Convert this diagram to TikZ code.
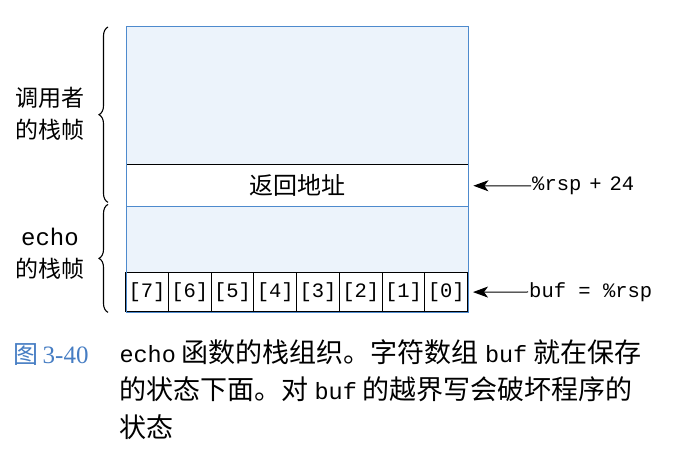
\documentclass[tikz,border=0pt]{standalone}
\usepackage{fontspec}
\setmainfont{Liberation Serif}
\setmonofont{Liberation Mono}
\newfontfamily\cjk{Noto Sans CJK SC}
\usetikzlibrary{arrows.meta, positioning, decorations.pathreplacing}
\usepackage{xcolor}
\definecolor{framecol}{RGB}{78,138,205}
\definecolor{stackfill}{RGB}{236,243,251}
\definecolor{capblue}{RGB}{70,125,195}
\def\cellw{42.75}
\newcommand{\captt}[1]{{\fontsize{23.5}{23.5}\selectfont\ttfamily #1}}

\begin{document}
\begin{tikzpicture}[x=1pt,y=-1pt,->,>={Stealth[length=15pt,width=11pt,inset=4pt]}]
    \tikzstyle{slot}=[draw=black, fill=white, line width=0.8pt, minimum width=\cellw pt, minimum height=39pt, inner sep=0pt, font=\fontsize{20.5}{20.5}\selectfont\ttfamily]
    \tikzstyle{side label}=[align=center, font=\cjk\fontsize{23}{32}\selectfont]
    \tikzstyle{ptr}=[anchor=west, inner sep=1pt, font=\fontsize{20.5}{20.5}\selectfont\ttfamily]
    \tikzstyle{brace}=[-, decorate, decoration={brace, amplitude=9pt}, line width=1.1pt]

    \useasboundingbox (0,0) rectangle (686,462);

    % Draw the stack area
    \node[fill=stackfill, minimum width=342pt, minimum height=285pt, inner sep=0pt, anchor=north west] (stack) at (126,27) {};

    % Return address slot
    \node[fill=white, minimum width=342pt, minimum height=41pt, inner sep=0pt, anchor=north west,
          font=\cjk\fontsize{24}{24}\selectfont] (ret) at (126,165) {返回地址};
    \draw[-, line width=1pt] (ret.north west) -- (ret.north east);
    \draw[-, framecol, line width=0.8pt] (ret.south west) -- (ret.south east);

    % Draw the buffer cells, [0] at the right
    \foreach \i in {0,...,7}
        \node[slot, anchor=south east] (b-\i) at (468-\i*\cellw,312) {[\i]};
    \draw[-, line width=1pt] (b-7.north west) -- (b-0.north east);

    % outline of the whole stack
    \draw[-, framecol, line width=1pt] (stack.north west) rectangle (stack.south east);

    % Braces and frame names
    \draw[brace] ([xshift=-18pt,yshift=4pt]ret.south west) -- ([xshift=-18pt]stack.north west);
    \draw[brace] ([xshift=-18pt]stack.south west) -- ([xshift=-18pt,yshift=2pt]ret.south west);
    \node[side label] (caller) at (50,114) {调用者\\的栈帧};
    \node[side label] (callee) at (50,254) {{\fontspec{Liberation Mono}\fontsize{24}{24}\selectfont echo}\\的栈帧};

    % Pointers into the stack
    \node[ptr] (rsp24) at (531,186) {\%rsp\kern8pt+\kern8pt24};
    \node[ptr] (bufptr) at (528,292) {buf = \%rsp};
    \draw[shorten >=5pt, line width=1pt] (rsp24.west) -- (ret.east);
    \draw[shorten >=5pt, line width=1pt] (bufptr.west) -- (b-0.east);

    % Caption
    \node[anchor=west, text=capblue, font=\fontsize{25}{25}\selectfont] (fignum) at (10,355) {{\cjk 图}\,3-40};
    \node[anchor=north west, align=left, font=\cjk\fontsize{27}{37.5}\selectfont] (caption) at (116,336)
        {\captt{echo} 函数的栈组织。字符数组 \captt{buf} 就在保存\\
         的状态下面。对 \captt{buf} 的越界写会破坏程序的\\
         状态};
\end{tikzpicture}
\end{document}
